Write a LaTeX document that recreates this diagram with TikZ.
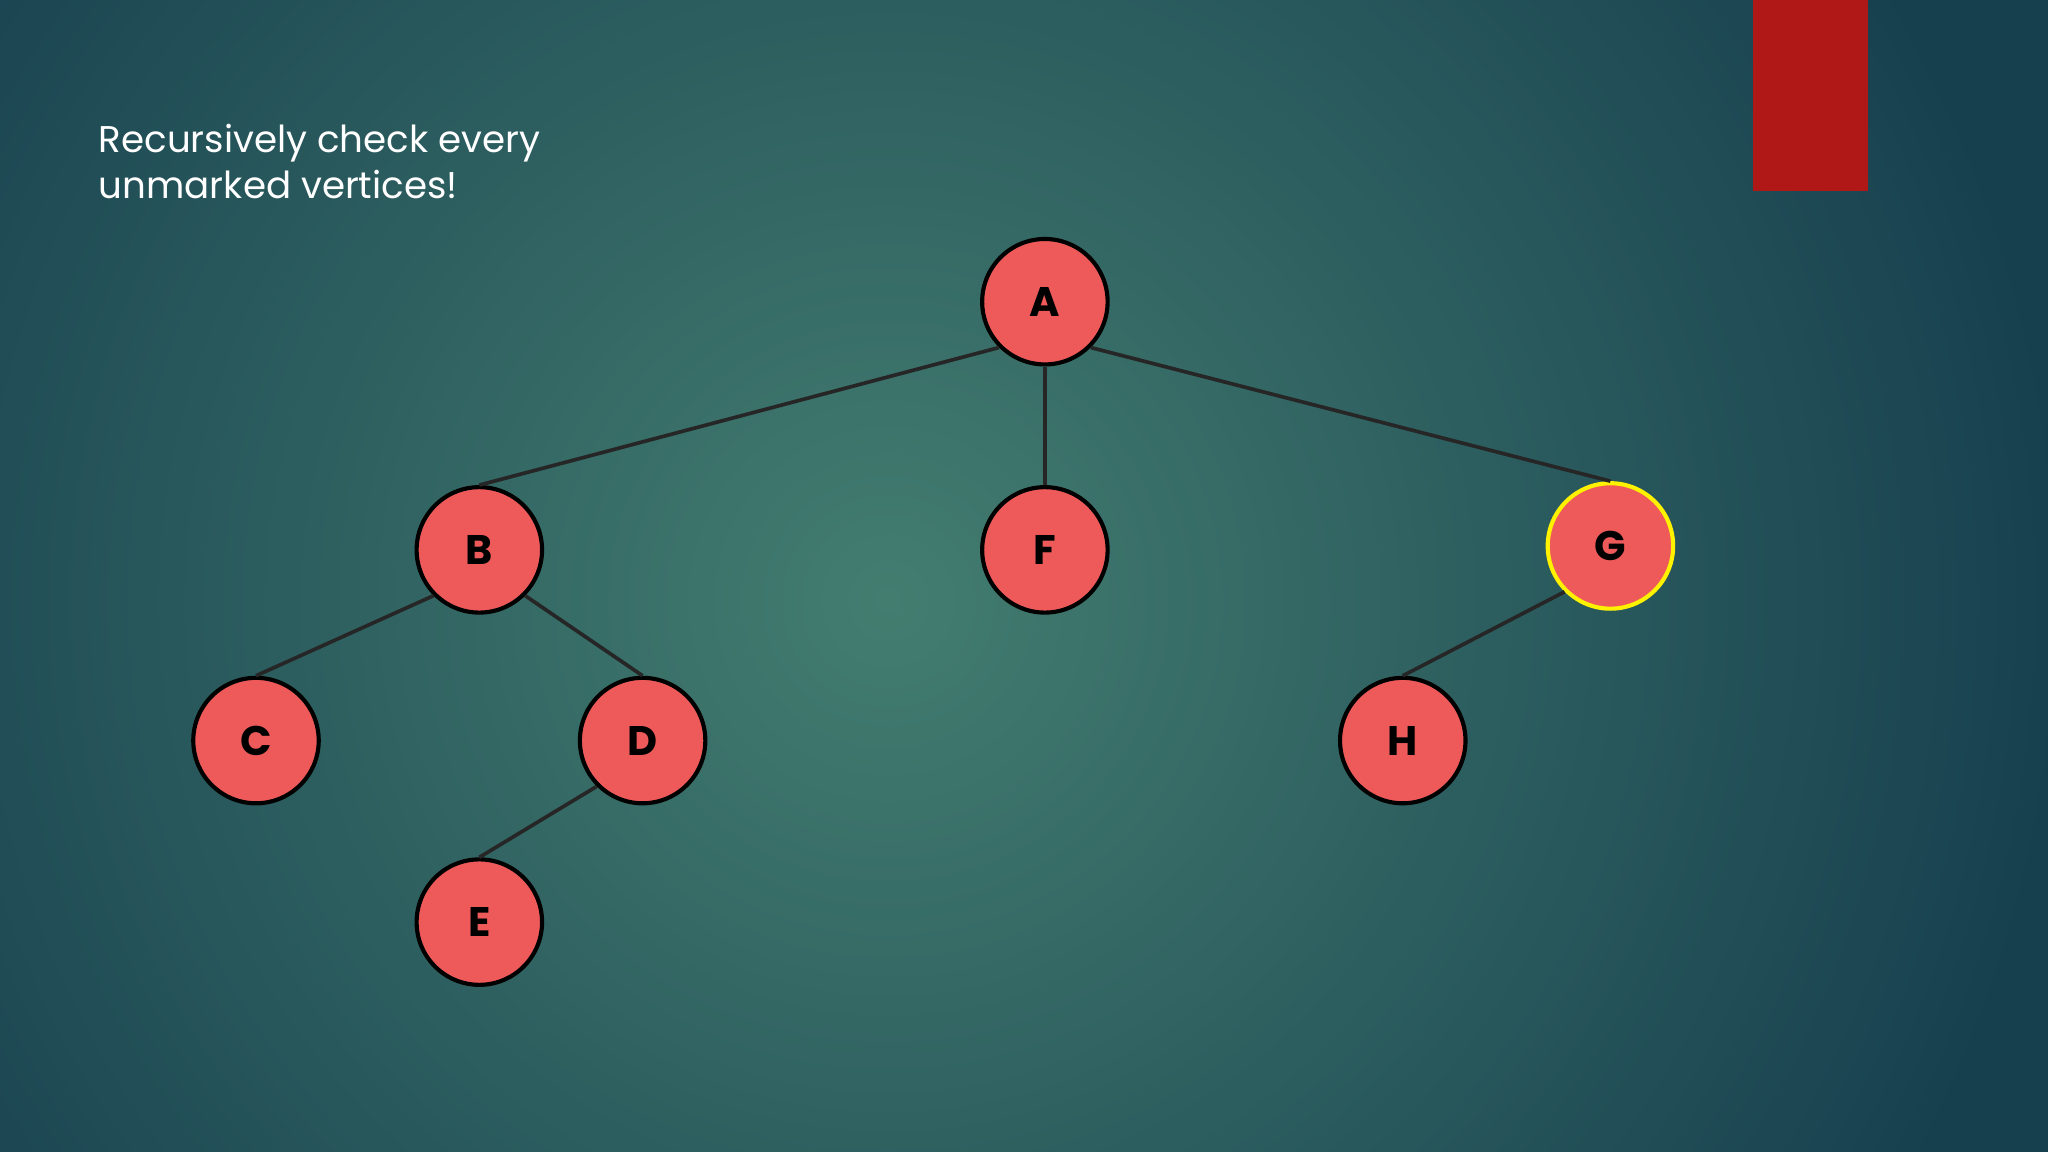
\documentclass[tikz,border=0pt]{standalone}
\usepackage{fontspec}
\setmainfont{Poppins}
\definecolor{bgin}{HTML}{437D70}
\definecolor{bgout}{HTML}{17404F}
\definecolor{nodered}{HTML}{EE5A5A}
\definecolor{barred}{HTML}{B01818}
\begin{document}
\begin{tikzpicture}[x=0.01cm,y=-0.01cm,
  vertex/.style={circle,draw=black,line width=0.9pt,fill=nodered,minimum size=0.96cm,inner sep=0pt,font=\fontsize{9}{10}\selectfont\bfseries},
  edge/.style={draw=black!85,line width=0.8pt}]
\useasboundingbox (0,0) rectangle (1568,882);
\fill[bgout] (0,0) rectangle (1568,882);
\shade[inner color=bgin,outer color=bgout] (680,460) circle (900);
\fill[barred] (1342,0) rectangle (1430,146);
\node[anchor=north west,align=left,text=white,font=\fontsize{8.1}{10.2}\selectfont,inner sep=0pt] (t) at (75,94) {Recursively check every\\unmarked vertices!};
\node[vertex] (A) at (800,231) {A};
\node[vertex] (B) at (367,421) {B};
\node[vertex] (F) at (800,421) {F};
\node[vertex,draw=yellow] (G) at (1233,418) {G};
\node[vertex] (C) at (196,567) {C};
\node[vertex] (D) at (492,567) {D};
\node[vertex] (E) at (367,706) {E};
\node[vertex] (H) at (1074,567) {H};
\draw[edge] (A.south west) -- (B.north);
\draw[edge] (A.south) -- (F.north);
\draw[edge] (A.south east) -- (G.north);
\draw[edge] (B.south west) -- (C.north);
\draw[edge] (B.south east) -- (D.north);
\draw[edge] (D.south west) -- (E.north);
\draw[edge] (G.south west) -- (H.north);
\end{tikzpicture}
\end{document}
